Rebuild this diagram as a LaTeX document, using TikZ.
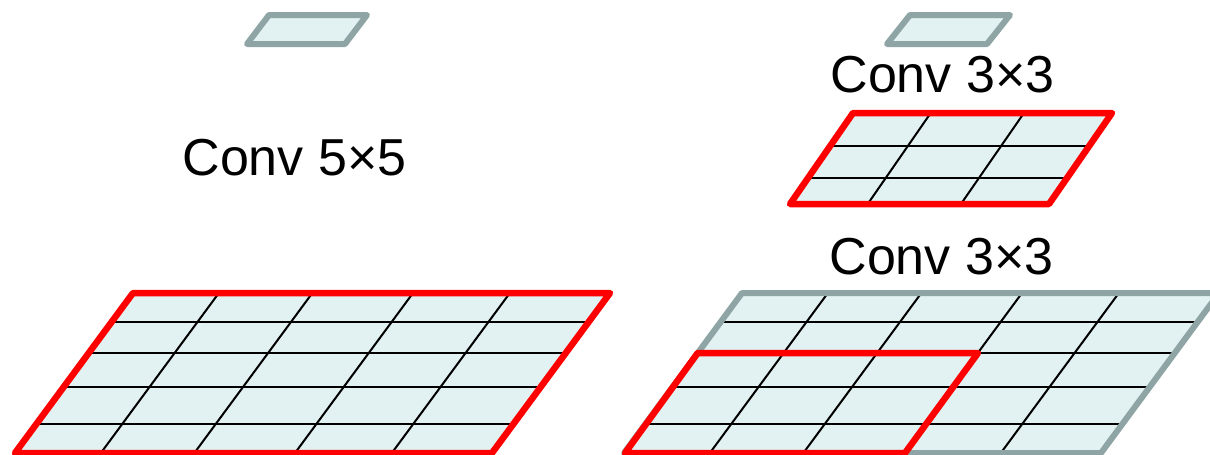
\documentclass[tikz,border=0pt]{standalone}
\usepackage{fontspec}
\setmainfont{Liberation Sans}
\definecolor{cellfill}{HTML}{E2F1F1}
\definecolor{edgegray}{HTML}{8FA5A5}
\definecolor{kred}{HTML}{FF0000}
\tikzset{
  gridline/.style={black, line width=2pt},
  rededge/.style={kred, line width=6.5pt, line join=round},
  grayedge/.style={edgegray, line width=6pt, line join=round},
  lbl/.style={anchor=base, inner sep=0pt, font=\fontsize{52}{60}\selectfont}
}
% x0 y0 W H s
\newcommand{\pfill}[5]{\fill[cellfill] (#1,#2) -- ++(#3,0) -- ++(#5,#4) -- ++(-#3,0) -- cycle;}
\newcommand{\pedge}[6]{\draw[#6] (#1,#2) -- ++(#3,0) -- ++(#5,#4) -- ++(-#3,0) -- cycle;}
\newcommand{\plines}[7]{%
  \foreach \v in {#6} {\draw[gridline] ({#1+\v*(#5)},{#2+\v*(#4)}) -- ++(#3,0);}
  \foreach \u in {#7} {\draw[gridline] ({#1+\u*(#3)},#2) -- ++(#5,#4);}}
\begin{document}
\begin{tikzpicture}[x=1pt,y=-1pt]
\useasboundingbox (0,0) rectangle (1210,455);
\clip (0,0) rectangle (1210,455);
% left: big 5x5 input
\pfill{133}{293}{477}{160}{-118}
\plines{133}{293}{477}{160}{-118}{0.18,0.375,0.5875,0.82}{0.18,0.376,0.587,0.79}
\pedge{133}{293}{477}{160}{-118}{rededge}
% left: small output
\pfill{269}{15}{98}{29}{-22}
\pedge{269}{15}{98}{29}{-22}{grayedge}
\node[lbl] (t55) at (294.5,175) {Conv 5×5};
% right: big input
\pfill{742}{293}{477}{160}{-118}
\plines{742}{293}{477}{160}{-118}{0.18,0.375,0.5875,0.82}{0.18,0.376,0.587,0.79}
\pedge{742}{293}{477}{160}{-118}{grayedge}
\draw[rededge] (697.7,353) -- (978,353) -- (905,453) -- (625,453) -- cycle;
\node[lbl] (t33b) at (941.5,274) {Conv 3×3};
% right: middle 3x3
\pfill{853}{113}{259}{91}{-63}
\plines{853}{113}{259}{91}{-63}{0.36,0.71}{0.30,0.66}
\pedge{853}{113}{259}{91}{-63}{rededge}
\node[lbl] (t33a) at (942.5,92) {Conv 3×3};
% right: small output
\pfill{910}{15}{100}{29}{-23}
\pedge{910}{15}{100}{29}{-23}{grayedge}
\end{tikzpicture}
\end{document}
